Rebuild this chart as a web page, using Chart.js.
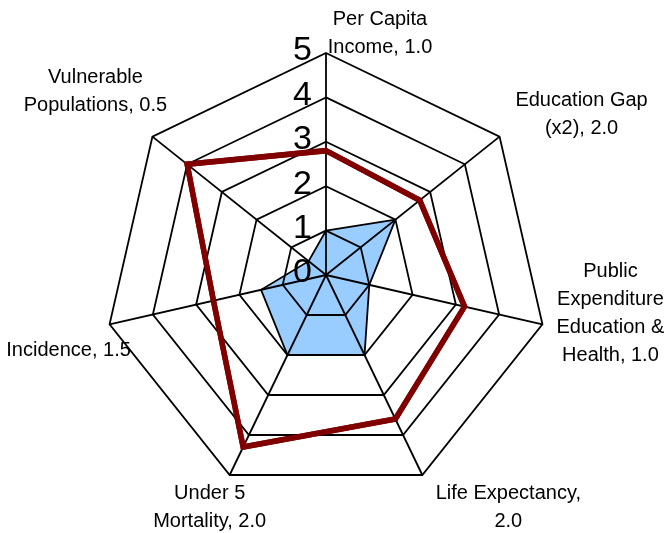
<!DOCTYPE html>
<html>
<head>
<meta charset="utf-8">
<script src="https://cdn.jsdelivr.net/npm/chart.js@4/dist/chart.umd.min.js"></script>
<style>
  html, body { margin: 0; padding: 0; background: #fff; }
  #wrap { width: 672px; height: 533px; position: relative; }
</style>
</head>
<body>
<div id="wrap"><canvas id="c" width="672" height="533"></canvas></div>
<script>
const categories = [
  ["Per Capita", "Income, 1.0"],
  ["Education Gap", "(x2), 2.0"],
  ["Public", "Expenditure", "Education &", "Health, 1.0"],
  ["Life Expectancy,", "2.0"],
  ["Under 5", "Mortality, 2.0"],
  ["Incidence, 1.5"],
  ["Vulnerable", "Populations, 0.5"]
];
const countryValues = [1.0, 2.0, 1.0, 2.0, 2.0, 1.5, 0.5];
const benchmarkValues = [2.8, 2.7, 3.2, 3.6, 4.3, 2.6, 4.0];
const tickValues = [0, 1, 2, 3, 4, 5];
const tickLabels = ["0", "1", "2", "3", "4", "5"];

const FONT = '"Liberation Sans", Arial, sans-serif';

// label block offsets from each axis end (styling/placement only)
const labelOffsets = [[54, -20], [82, -22], [68, -11], [86, 32], [-20, 32], [-41, 26], [-57, -45]];

const customText = {
  id: 'customText',
  afterDraw(chart) {
    const ctx = chart.ctx;
    const scale = chart.scales.r;
    // redraw benchmark line on top of the grid
    chart.getDatasetMeta(1).controller.draw();
    ctx.save();
    ctx.fillStyle = '#000';
    // tick labels
    ctx.font = '34px ' + FONT;
    ctx.textAlign = 'right';
    ctx.textBaseline = 'middle';
    tickValues.forEach((v, i) => {
      const p = scale.getPointPositionForValue(0, v);
      ctx.fillText(tickLabels[i], scale.xCenter - 14, p.y - 2);
    });
    // point labels
    ctx.font = '20px ' + FONT;
    ctx.textAlign = 'center';
    const lh = 28;
    categories.forEach((lines, i) => {
      const p = scale.getPointPosition(i, scale.drawingArea);
      const cx = p.x + labelOffsets[i][0];
      const cy = p.y + labelOffsets[i][1];
      const top = cy - (lines.length - 1) * lh / 2;
      lines.forEach((t, j) => ctx.fillText(t, cx, top + j * lh));
    });
    ctx.restore();
  }
};

new Chart(document.getElementById('c'), {
  type: 'radar',
  data: {
    labels: categories,
    datasets: [
      {
        data: countryValues,
        backgroundColor: '#99CCFF',
        borderColor: '#000000',
        borderWidth: 1.8,
        fill: true,
        pointRadius: 0,
        tension: 0
      },
      {
        data: benchmarkValues,
        backgroundColor: 'rgba(0,0,0,0)',
        borderColor: '#800000',
        borderWidth: 5.5,
        fill: false,
        pointRadius: 0,
        tension: 0,
        borderJoinStyle: 'miter'
      }
    ]
  },
  options: {
    responsive: false,
    animation: false,
    devicePixelRatio: 1,
    layout: { padding: { left: 104, right: 124, top: 53, bottom: 36 } },
    plugins: { legend: { display: false }, tooltip: { enabled: false } },
    scales: {
      r: {
        min: 0,
        max: 5,
        ticks: { display: false, stepSize: 1 },
        pointLabels: { display: false },
        grid: { color: '#000', lineWidth: 1.8, z: 1 },
        angleLines: { color: '#000', lineWidth: 1.8 }
      }
    }
  },
  plugins: [customText]
});
</script>
</body>
</html>
